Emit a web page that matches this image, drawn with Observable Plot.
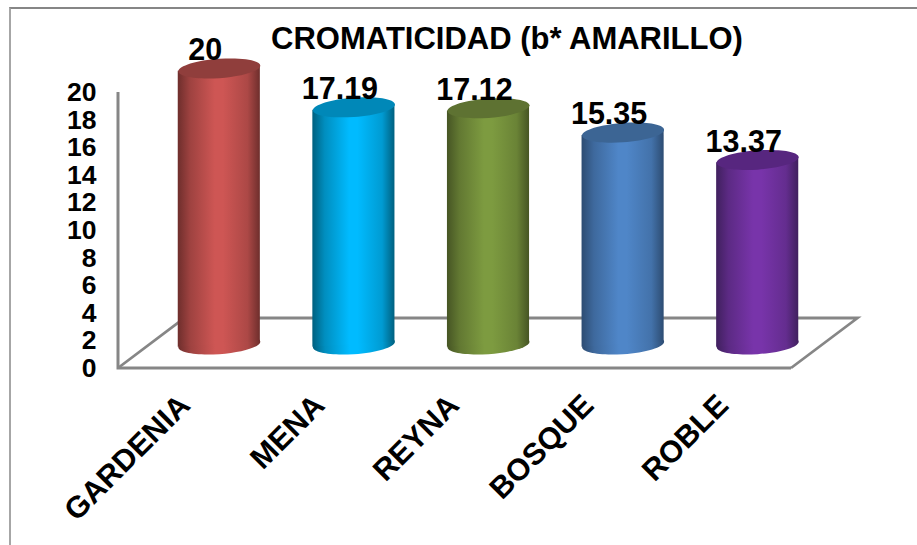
<!DOCTYPE html>
<html>
<head>
<meta charset="utf-8">
<script src="https://cdn.jsdelivr.net/npm/d3@7"></script>
<script src="https://cdn.jsdelivr.net/npm/@observablehq/plot@0.6"></script>
<style>
  html, body { margin: 0; padding: 0; background: #fff; overflow: hidden; }
  #wrap { position: relative; width: 917px; height: 545px; }
  #edge { position: absolute; left: 9px; top: 7px; right: 0; bottom: 0; border-top: 2px solid #868686; border-left: 2px solid #a6a6a6; pointer-events: none; }
  svg { display: block; }
</style>
</head>
<body>
<div id="wrap"><div id="edge"></div></div>
<script>
const titleText = "CROMATICIDAD (b* AMARILLO)";
const categories = ["GARDENIA", "MENA", "REYNA", "BOSQUE", "ROBLE"];
const values = [20, 17.19, 17.12, 15.35, 13.37];
const yTicks = [0, 2, 4, 6, 8, 10, 12, 14, 16, 18, 20];
const midColors = ["#CE5654", "#00BBFF", "#7D9B40", "#4F86C8", "#7834AA"];
const edgeColors = ["#6E2E2C", "#00607F", "#465524", "#2D4C72", "#40205E"];
const capColors = ["#903E3C", "#0088B8", "#5E7232", "#3C6594", "#57267F"];

const table = categories.map((name, i) => ({name, value: values[i]}));
const tilt = 0.07, squash = 0.235, font = "'Liberation Sans', Arial, sans-serif";
const shiftX = 33.5, shiftY = -24;

// Slanted ellipse for the ends of each cylinder.
const ellipseSymbol = {
  draw(ctx, size) {
    const a = Math.sqrt(size / Math.PI), b = a * squash, k = 0.5523;
    const P = (x, y) => [x, y - x * tilt];
    const c = (p1, p2, p3) => ctx.bezierCurveTo(...P(...p1), ...P(...p2), ...P(...p3));
    ctx.moveTo(...P(-a, 0));
    c([-a, -k * b], [-k * a, -b], [0, -b]);
    c([k * a, -b], [a, -k * b], [a, 0]);
    c([a, k * b], [k * a, b], [0, b]);
    c([-k * a, b], [-a, k * b], [-a, 0]);
    ctx.closePath();
  }
};

// Gradient definitions shared by the cylinder bodies.
function gradients() {
  const defs = d3.create("svg:defs");
  midColors.forEach((mid, i) => {
    const g = defs.append("linearGradient").attr("id", `cyl${i}`);
    const mix = d3.interpolateRgb(edgeColors[i], mid);
    [[0, 0], [0.15, 0.5], [0.45, 1], [0.55, 1], [0.85, 0.65], [1, 0]].forEach(([o, t]) =>
      g.append("stop").attr("offset", o).attr("stop-color", mix(t)));
  });
  return defs.node();
}

// Floor parallelogram and vertical axis line of the pseudo-3D frame.
function floor(index, {y}, values, dims) {
  const l = dims.marginLeft, r = dims.width - dims.marginRight;
  const y0 = y(0), y1 = y(20), dx = 66.5, dy = 50;
  const g = d3.create("svg:g").attr("fill", "none").attr("stroke", "#868686");
  g.append("path").attr("stroke-width", 2.8)
    .attr("d", `M${l},${y0}L${l + dx},${y0 - dy}L${r + dx},${y0 - dy}L${r},${y0}`);
  g.append("path").attr("stroke-width", 3)
    .attr("d", `M${l},${y1}L${l},${y0 + 1.5}M${l},${y0}L${r},${y0}`);
  return g.node();
}

// Shear a bar so that its ends meet the tips of the slanted ellipses.
function shear(index, scales, vals, dims, context, next) {
  const g = next(index, scales, vals, dims, context);
  d3.select(g).selectAll("rect").each(function () {
    const cx = +this.getAttribute("x") + this.getAttribute("width") / 2;
    this.setAttribute("transform", `translate(${cx},0) skewY(${-Math.atan(tilt) * 180 / Math.PI}) translate(${-cx},0)`);
  });
  return g;
}

const cylinders = table.flatMap((d, i) => [
  Plot.dot([d], {x: "name", y: () => 0, r: 41, symbol: ellipseSymbol, fill: `url(#cyl${i})`, stroke: "none", dx: shiftX, dy: shiftY}),
  Plot.barY([d], {x: "name", y1: () => 0, y2: "value", fill: `url(#cyl${i})`, dx: shiftX, dy: shiftY, render: shear}),
  Plot.dot([d], {x: "name", y: "value", r: 41, symbol: ellipseSymbol, fill: capColors[i], stroke: "none", dx: shiftX, dy: shiftY})
]);

const chart = Plot.plot({
  width: 917,
  height: 545,
  marginTop: 92,
  marginBottom: 177,
  marginLeft: 118,
  marginRight: 126,
  style: {fontFamily: font, background: "none", overflow: "visible"},
  x: {domain: categories, paddingInner: 0.39, paddingOuter: 0.195, round: false, label: null},
  y: {domain: [0, 20], label: null},
  marks: [
    gradients,
    floor,
    Plot.axisY({ticks: yTicks, tickSize: 0, tickPadding: 22, fontSize: 26.5, fontWeight: "bold", label: null, fill: "#000"}),
    Plot.axisX({tickSize: 0, tickRotate: -45, fontSize: 30.5, fontWeight: "bold", label: null, fill: "#000", textAnchor: "end", dx: -1, dy: 20}),
    ...cylinders,
    Plot.text(table, {x: "name", y: "value", text: d => String(d.value), dx: shiftX - 14, dy: shiftY - 18, fontSize: 30.5, fontWeight: "bold", fill: "#000"}),
    Plot.text([titleText], {frameAnchor: "top", dx: 52, dy: -53, fontSize: 31, fontWeight: "bold", fill: "#000", lineAnchor: "middle"})
  ]
});
document.getElementById("wrap").prepend(chart);
</script>
</body>
</html>
